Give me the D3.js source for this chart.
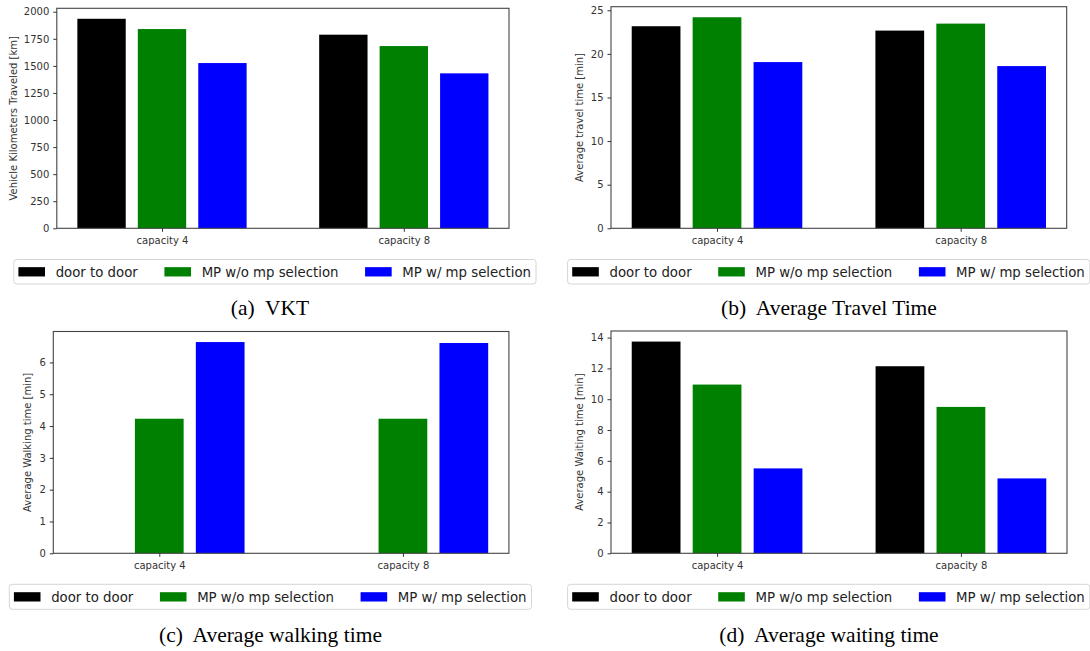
<!DOCTYPE html>
<html>
<head>
<meta charset="utf-8">
<script src="https://cdn.jsdelivr.net/npm/d3@7"></script>
<style>
  html, body { margin: 0; padding: 0; background: #fff; }
  svg { display: block; }
  text { font-family: "DejaVu Sans", sans-serif; }
  .caption { font-family: "Liberation Serif", "Times New Roman", serif; }
</style>
</head>
<body>
<svg id="chart" width="1090" height="651"></svg>
<script>
// ---------------- data ----------------
const categories = ["capacity 4", "capacity 8"];
const seriesNames = ["door to door", "MP w/o mp selection", "MP w/ mp selection"];
const seriesColors = ["#000000", "#008000", "#0000ff"];

const vktDoor = [1935, 1788];
const vktNoSel = [1840, 1683];
const vktSel = [1526, 1431];
const vktTicks = [0, 250, 500, 750, 1000, 1250, 1500, 1750, 2000];

const travelDoor = [23.17, 22.67];
const travelNoSel = [24.2, 23.47];
const travelSel = [19.06, 18.6];
const travelTicks = [0, 5, 10, 15, 20, 25];

const walkDoor = [0, 0];
const walkNoSel = [4.23, 4.23];
const walkSel = [6.64, 6.61];
const walkTicks = [0, 1, 2, 3, 4, 5, 6];

const waitDoor = [13.74, 12.14];
const waitNoSel = [10.95, 9.5];
const waitSel = [5.51, 4.86];
const waitTicks = [0, 2, 4, 6, 8, 10, 12, 14];

const yLabels = ["Vehicle Kilometers Traveled [km]", "Average travel time [min]",
                 "Average Walking time [min]", "Average Waiting time [min]"];
const captionTags = ["(a)", "(b)", "(c)", "(d)"];
const captionTexts = ["VKT", "Average Travel Time", "Average walking time", "Average waiting time"];

// ---------------- layout ----------------
const panels = [
  { series: [vktDoor, vktNoSel, vktSel], ticks: vktTicks,
    frame: { x0: 56.8, x1: 509, y0: 8.3, y1: 228.3 }, ylabX: 13.8,
    legend: { x: 13.8, y0: 259.5, y1: 284 }, cap: { x: 270, y: 315 } },
  { series: [travelDoor, travelNoSel, travelSel], ticks: travelTicks,
    frame: { x0: 611, x1: 1066.7, y0: 6.7, y1: 228.3 }, ylabX: 579.8,
    legend: { x: 567.6, y0: 259.5, y1: 284 }, cap: { x: 829, y: 315 } },
  { series: [walkDoor, walkNoSel, walkSel], ticks: walkTicks,
    frame: { x0: 53.3, x1: 508.9, y0: 331.5, y1: 553.3 }, ylabX: 27.8,
    legend: { x: 9.3, y0: 584.3, y1: 609.3 }, cap: { x: 270.5, y: 642 } },
  { series: [waitDoor, waitNoSel, waitSel], ticks: waitTicks,
    frame: { x0: 611, x1: 1067, y0: 331, y1: 553.3 }, ylabX: 579.8,
    legend: { x: 567.6, y0: 584.3, y1: 609.3 }, cap: { x: 829, y: 642 } }
];

const svg = d3.select("#chart");
const barOffsets = [-0.25, 0, 0.25];
const barWidth = 0.2;
const tickColor = "#333";
const legendFont = 13.3;

panels.forEach((p, pi) => {
  const f = p.frame;
  const g = svg.append("g");
  const x = d3.scaleLinear().domain([-0.435, 1.435]).range([f.x0, f.x1]);
  const ymax = d3.max(p.series.flat()) * 1.05;
  const y = d3.scaleLinear().domain([0, ymax]).range([f.y1, f.y0]);

  // bars
  p.series.forEach((vals, si) => {
    g.selectAll(null).data(vals).enter().append("rect")
      .attr("x", (d, i) => x(i + barOffsets[si] - barWidth / 2))
      .attr("width", (d, i) => x(i + barOffsets[si] + barWidth / 2) - x(i + barOffsets[si] - barWidth / 2))
      .attr("y", d => y(d))
      .attr("height", d => y(0) - y(d))
      .attr("fill", seriesColors[si]);
  });

  // frame
  g.append("rect")
    .attr("x", f.x0).attr("y", f.y0)
    .attr("width", f.x1 - f.x0).attr("height", f.y1 - f.y0)
    .attr("fill", "none").attr("stroke", "#444").attr("stroke-width", 1.1);

  // x axis
  const xAxis = d3.axisBottom(x)
    .tickValues(categories.map((c, i) => i))
    .tickFormat(i => categories[i])
    .tickSizeInner(3.5).tickSizeOuter(0).tickPadding(5.5);
  const gx = g.append("g").attr("transform", `translate(0,${f.y1})`).call(xAxis);
  gx.select(".domain").remove();
  gx.selectAll("line").attr("stroke", tickColor);
  gx.selectAll("text").attr("fill", tickColor).style("font-size", "10px")
    .style("font-family", "'DejaVu Sans', sans-serif");

  // y axis
  const yAxis = d3.axisLeft(y).tickValues(p.ticks).tickFormat(d3.format("d"))
    .tickSizeInner(3.5).tickSizeOuter(0).tickPadding(4);
  const gy = g.append("g").attr("transform", `translate(${f.x0},0)`).call(yAxis);
  gy.select(".domain").remove();
  gy.selectAll("line").attr("stroke", tickColor);
  gy.selectAll("text").attr("fill", tickColor).style("font-size", "10px")
    .style("font-family", "'DejaVu Sans', sans-serif");

  // y label
  g.append("text")
    .attr("transform", `translate(${p.ylabX},${(f.y0 + f.y1) / 2}) rotate(-90)`)
    .attr("text-anchor", "middle").attr("dy", "0.35em")
    .attr("fill", tickColor).style("font-size", "10px")
    .text(yLabels[pi]);

  // legend
  const L = p.legend;
  const lg = g.append("g");
  const box = lg.append("rect")
    .attr("x", L.x).attr("y", L.y0).attr("height", L.y1 - L.y0)
    .attr("rx", 3).attr("ry", 3)
    .attr("fill", "#fff").attr("stroke", "#d6d6d6").attr("stroke-width", 1);
  const cy = (L.y0 + L.y1) / 2;
  let cx = L.x + 4.6;
  seriesNames.forEach((name, si) => {
    lg.append("rect")
      .attr("x", cx).attr("y", cy - 4.6)
      .attr("width", 2 * legendFont).attr("height", 0.7 * legendFont)
      .attr("fill", seriesColors[si]);
    cx += 2 * legendFont + 0.8 * legendFont;
    const t = lg.append("text")
      .attr("x", cx).attr("y", cy).attr("dy", "0.36em")
      .attr("fill", "#222").style("font-size", legendFont + "px")
      .text(name);
    const w = t.node().getComputedTextLength();
    cx += w;
    if (si < seriesNames.length - 1) cx += 2 * legendFont;
  });
  box.attr("width", cx + 5 - L.x);

  // caption
  svg.append("text").attr("class", "caption")
    .attr("x", p.cap.x).attr("y", p.cap.y)
    .attr("text-anchor", "middle")
    .attr("fill", "#000").style("font-size", "21.5px")
    .text(captionTags[pi] + "\u00a0 " + captionTexts[pi]);
});
</script>
</body>
</html>
